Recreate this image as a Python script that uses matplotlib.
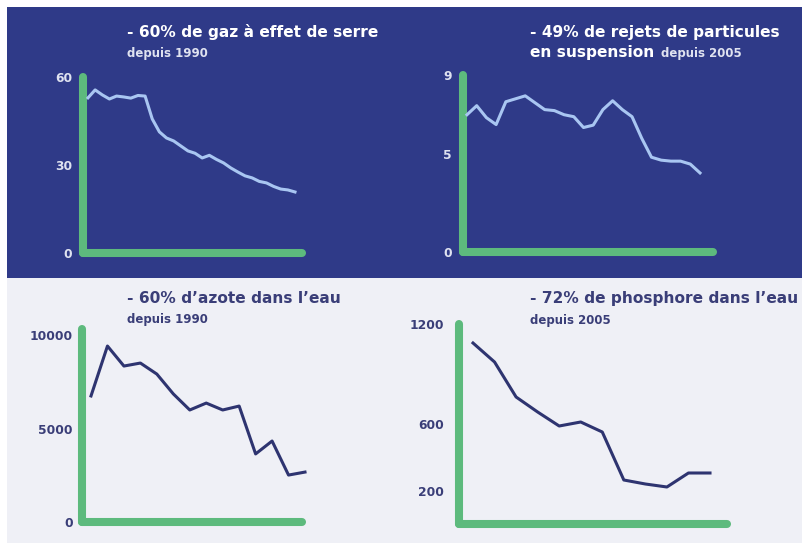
import matplotlib
matplotlib.use("Agg")
import matplotlib.pyplot as plt
from matplotlib.patches import Rectangle

W, H = 803, 543

# --- data ---
ges_vals = [52.9, 55.6, 53.9, 52.5, 53.5, 53.2, 52.8, 53.7, 53.5, 45.7,
            41.3, 39.2, 38.2, 36.5, 34.8, 34.0, 32.4, 33.3, 31.9, 30.7,
            29.0, 27.6, 26.3, 25.6, 24.4, 23.9, 22.7, 21.8, 21.5, 20.8]
ges_ticks = [0, 30, 60]

part_vals = [6.98, 7.44, 6.83, 6.48, 7.64, 7.79, 7.94, 7.59, 7.24, 7.19,
             6.98, 6.88, 6.33, 6.45, 7.24, 7.69, 7.24, 6.88, 5.78, 4.82,
             4.67, 4.62, 4.62, 4.47, 4.02]
part_ticks = [0, 5, 9]

azote_vals = [6740, 9410, 8340, 8500, 7910, 6850, 5990, 6360, 5990, 6200,
              3640, 4330, 2510, 2670]
azote_ticks = [0, 5000, 10000]

phos_vals = [1086, 972, 762, 672, 588, 612, 552, 264, 240, 222, 306, 306]
phos_ticks = [200, 600, 1200]

BLUE = "#2f3a88"
LIGHT_BG = "#eff0f6"
GREEN = "#5dba7d"
LINE_LIGHT = "#a9c6f2"
NAVY = "#2e3470"
TXT_DARK = "#3a3e78"
TXT_LIGHT = "#dfe2f0"

plt.rcParams["font.family"] = ["DejaVu Sans"]


def fx(x):
    return x / W


def fy(y):
    return 1 - y / H


fig = plt.figure(figsize=(W / 100, H / 100), dpi=100)
fig.patch.set_facecolor("white")
fig.patches.append(Rectangle((fx(7), fy(278)), 1, 278 / H - 7 / H, transform=fig.transFigure,
                             facecolor=BLUE, edgecolor="none", zorder=-5))
fig.patches.append(Rectangle((fx(7), 0), 1, fy(278), transform=fig.transFigure,
                             facecolor=LIGHT_BG, edgecolor="none", zorder=-5))


def panel(vals, ticks, ymax, left, right, bottom, top, x0, x1, line_col, txt_col,
          vtop=1.0, pad=8):
    ax = fig.add_axes([fx(left), fy(bottom), fx(right) - fx(left), fy(top) - fy(bottom)])
    ax.set_facecolor("none")
    ax.set_zorder(2)
    n = len(vals) - 1
    step = (x1 - x0) / n
    ax.set_xlim(-(x0 - left) / step, n + (right - x1) / step)
    ax.set_ylim(0, ymax)
    ax.plot(range(len(vals)), vals, color=line_col, lw=2.2, solid_joinstyle="round",
            clip_on=False, zorder=3)
    ax.plot([0, 0], [0, vtop], transform=ax.transAxes, color=GREEN, lw=5.8,
            solid_capstyle="round", clip_on=False, zorder=2)
    ax.plot([0, 1], [0, 0], transform=ax.transAxes, color=GREEN, lw=5.8,
            solid_capstyle="round", clip_on=False, zorder=2)
    for s in ax.spines.values():
        s.set_visible(False)
    ax.set_xticks([])
    ax.set_yticks(ticks)
    ax.set_yticklabels([str(t) for t in ticks])
    ax.tick_params(axis="y", length=0, pad=pad, labelsize=8.8, labelcolor=txt_col)
    for lab in ax.get_yticklabels():
        lab.set_fontweight("bold")
    return ax


panel(ges_vals, ges_ticks, 60, 83, 302, 253, 77, 88, 295, LINE_LIGHT, TXT_LIGHT)
panel(part_vals, part_ticks, 9, 463, 713, 252, 75, 467, 700, LINE_LIGHT, TXT_LIGHT)
panel(azote_vals, azote_ticks, 10000, 82, 302, 522, 335, 91, 305, NAVY, TXT_DARK,
      vtop=1.03, pad=6.5)
panel(phos_vals, phos_ticks, 1200, 459, 727, 524, 324, 473, 710, NAVY, TXT_DARK, pad=11)

big = dict(fontsize=11.1, fontweight="bold", va="baseline", ha="left")
small = dict(fontsize=8.5, fontweight="bold", va="baseline", ha="left")

fig.text(fx(127), fy(37), "- 60% de gaz à effet de serre", color="white", **big)
fig.text(fx(127), fy(57), "depuis 1990", color=TXT_LIGHT, **small)

fig.text(fx(530), fy(37), "- 49% de rejets de particules", color="white", **big)
fig.text(fx(530), fy(57), "en suspension", color="white", **big)
fig.text(fx(661), fy(57), "depuis 2005", color=TXT_LIGHT, **small)

fig.text(fx(127), fy(303), "- 60% d\u2019azote dans l\u2019eau", color=TXT_DARK, **big)
fig.text(fx(127), fy(323), "depuis 1990", color=TXT_DARK, **small)

fig.text(fx(530), fy(303), "- 72% de phosphore dans l\u2019eau", color=TXT_DARK, **big)
fig.text(fx(530), fy(324), "depuis 2005", color=TXT_DARK, **small)

fig.savefig("out.png", dpi=100, facecolor=fig.get_facecolor())
